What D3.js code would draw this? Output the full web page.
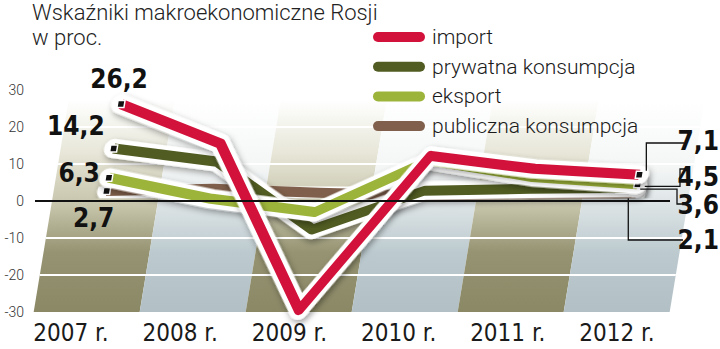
<!DOCTYPE html>
<html><head><meta charset="utf-8">
<script src="https://cdn.jsdelivr.net/npm/d3@7/dist/d3.min.js"></script>
<style>
html,body{margin:0;padding:0;background:#fff;}
svg{display:block;}
.narrow{font-family:"Liberation Sans Narrow","Arial Narrow","DejaVu Sans Condensed",sans-serif;}
</style></head>
<body>
<svg id="chart" width="720" height="349"></svg>
<script>
// ---- data ----
const years = [2007, 2008, 2009, 2010, 2011, 2012];
const yearLabels = ["2007 r.", "2008 r.", "2009 r.", "2010 r.", "2011 r.", "2012 r."];
const importVals = [26.2, 15.5, -29.5, 12.2, 8.7, 7.1];
const privateVals = [14.2, 10.6, -7.7, 2.8, 3.3, 3.6];
const exportVals = [6.3, 0.6, -3.0, 11.0, 6.5, 4.5];
const publicVals = [2.7, 3.3, 2.2, 1.5, 1.8, 2.1];
const seriesNames = ["import", "prywatna konsumpcja", "eksport", "publiczna konsumpcja"];
const yTicks = [30, 20, 10, 0, -10, -20, -30];

const colors = {"import":"#d3123c","prywatna konsumpcja":"#515c22","eksport":"#9db43a","publiczna konsumpcja":"#80604c"};
const series = [
  {name:"import", values:importVals},
  {name:"prywatna konsumpcja", values:privateVals},
  {name:"eksport", values:exportVals},
  {name:"publiczna konsumpcja", values:publicVals}
];

const svg = d3.select("#chart");
const y = d3.scaleLinear().domain([-30, 30]).range([312, 90]);
const x = d3.scaleBand().domain(years).range([52, 688]).padding(0);
const bw = x.bandwidth();
const cx = d => x(d) + bw / 2;
const y0 = y(0);
const shear = 0.165;
const skewDeg = -Math.atan(shear) * 180 / Math.PI;
const px = (yr, v) => cx(yr) + shear * (y0 - y(v));
const fmt = v => String(v).replace(".", ",");

const defs = svg.append("defs");
const gOlive = defs.append("linearGradient").attr("id","gOlive").attr("gradientUnits","userSpaceOnUse")
  .attr("x1",0).attr("x2",0).attr("y1",y(-30)).attr("y2",y(30)+10);
[[0,"#8a8865"],[0.28,"#959371"],[0.5,"#c6c4aa"],[0.75,"#e7e6d8"],[1,"#ffffff"]].forEach(s=>gOlive.append("stop").attr("offset",s[0]).attr("stop-color",s[1]));
const gBlue = defs.append("linearGradient").attr("id","gBlue").attr("gradientUnits","userSpaceOnUse")
  .attr("x1",0).attr("x2",0).attr("y1",y(-30)).attr("y2",y(30)+10);
[[0,"#b2c0c6"],[0.28,"#bccacf"],[0.5,"#dce3e5"],[0.68,"#f4f6f6"],[1,"#ffffff"]].forEach(s=>gBlue.append("stop").attr("offset",s[0]).attr("stop-color",s[1]));
const f = defs.append("filter").attr("id","shadow").attr("x","-10%").attr("y","-20%").attr("width","130%").attr("height","150%");
f.append("feDropShadow").attr("dx",2).attr("dy",3).attr("stdDeviation",3).attr("flood-color","#000").attr("flood-opacity",0.38);

// sheared plot group
const plot = svg.append("g").attr("transform",`translate(0,${y0}) skewX(${skewDeg}) translate(0,${-y0})`);

// background bands
plot.selectAll("rect.band").data(years).join("rect").attr("class","band")
  .attr("x", d => x(d)).attr("width", bw)
  .attr("y", y(30)).attr("height", y(-30) - y(30))
  .attr("fill", (d,i) => i % 2 === 0 ? "url(#gOlive)" : "url(#gBlue)");
// white gridlines
plot.selectAll("line.grid").data(yTicks.filter(t => t !== 0 && t !== 30 && t !== -30)).join("line").attr("class","grid")
  .attr("x1", x(years[0])).attr("x2", x(years[years.length-1]) + bw)
  .attr("y1", d => y(d)).attr("y2", d => y(d))
  .attr("stroke","#fff").attr("stroke-width",2);

// zero line (screen)
svg.append("line").attr("x1",35).attr("x2",670).attr("y1",y0).attr("y2",y0).attr("stroke","#111").attr("stroke-width",2);

// tick labels
svg.selectAll("text.tick").data(yTicks).join("text").attr("class","tick")
  .attr("x",24).attr("y",d=>y(d)+5).attr("text-anchor","end")
  .attr("font-family","Roboto").attr("font-weight",300).attr("font-size",14).attr("fill","#333")
  .text(d=>d);

// year labels
const xl = d3.scalePoint().domain(years).range([71, 617]);
svg.selectAll("text.year").data(years).join("text").attr("class","year narrow")
  .attr("x",d=>xl(d)).attr("y",341).attr("text-anchor","middle")
  .attr("font-size",24).attr("fill","#1a1a1a")
  .text((d,i)=>yearLabels[i]);

// lines
const line = d3.line().x((d,i)=>cx(years[i])).y(d=>y(d));
const drawOrder = ["publiczna konsumpcja","prywatna konsumpcja","eksport","import"];
drawOrder.forEach(name => {
  const s = series.find(z => z.name === name);
  const g = plot.append("g");
  g.append("path").attr("d", line(s.values)).attr("fill","none").attr("stroke","#fff")
    .attr("stroke-width",19).attr("stroke-linejoin","round").attr("stroke-linecap","round")
    .attr("filter","url(#shadow)");
  g.append("path").attr("d", line(s.values)).attr("fill","none").attr("stroke",colors[name])
    .attr("stroke-width",10).attr("stroke-linejoin","round").attr("stroke-linecap","butt");
  [0, s.values.length-1].forEach(i => {
    g.append("rect").attr("x", cx(years[i]) - 3.5).attr("y", y(s.values[i]) - 3.5)
      .attr("width",7).attr("height",7).attr("fill","#111").attr("stroke","#fff").attr("stroke-width",1.5);
  });
});

// legend
const leg = svg.append("g");
seriesNames.forEach((n,i) => {
  const ly = 37 + i * 29.7;
  leg.append("line").attr("x1",378).attr("x2",420).attr("y1",ly).attr("y2",ly)
    .attr("stroke",colors[n]).attr("stroke-width",10).attr("stroke-linecap","round");
  leg.append("text").attr("x",432).attr("y",ly+7).attr("font-family","Roboto").attr("font-weight",300)
    .attr("font-size",21).attr("fill","#1a1a1a").text(n);
});

// title
svg.append("text").attr("x",32).attr("y",20).attr("font-family","Roboto").attr("font-weight",300)
  .attr("font-size",22).attr("fill","#222").text("Wskaźniki makroekonomiczne Rosji");
svg.append("text").attr("x",32).attr("y",45).attr("font-family","Roboto").attr("font-weight",300)
  .attr("font-size",22).attr("fill","#222").text("w proc.");

// left value labels (2007)
const leftPos = {
  "import":[ -2, -16, "middle"],
  "prywatna konsumpcja":[-9, -13, "end"],
  "eksport":[-9, 4, "end"],
  "publiczna konsumpcja":[-13, 36, "middle"]
};
series.forEach(s => {
  const v = s.values[0], p = leftPos[s.name];
  svg.append("text").attr("class","narrow").attr("x", px(years[0], v) + p[0]).attr("y", y(v) + p[1])
    .attr("text-anchor", p[2]).attr("font-weight","bold").attr("font-size",26).attr("fill","#111")
    .text(fmt(v));
});

// right value labels (2012) with leaders
const last = years.length - 1;
const endPt = s => [px(years[last], s.values[last]), y(s.values[last])];
const lab = (txt, ly) => svg.append("text").attr("class","narrow").attr("x",719).attr("y",ly)
  .attr("text-anchor","end").attr("font-weight","bold").attr("font-size",26).attr("fill","#111").text(txt);
const lead = d => svg.append("path").attr("d", d).attr("fill","none").attr("stroke","#111").attr("stroke-width",1.3);
{
  const [ex, ey] = endPt(series[0]);
  lead(`M${ex+7},${ey-4}V143H684`); lab(fmt(series[0].values[last]), 150);
}
{
  const [ex, ey] = endPt(series[2]);
  lead(`M${ex+7},${ey+2}H680V169H685`); lab(fmt(series[2].values[last]), 186);
}
{
  const [ex, ey] = endPt(series[1]);
  lead(`M${ex+3},${ey+1.5}H677V204H684`); lab(fmt(series[1].values[last]), 214);
}
{
  const [ex, ey] = endPt(series[3]);
  lead(`M${ex-8},${ey+5}V240H683`); lab(fmt(series[3].values[last]), 249);
}
</script>
</body></html>
